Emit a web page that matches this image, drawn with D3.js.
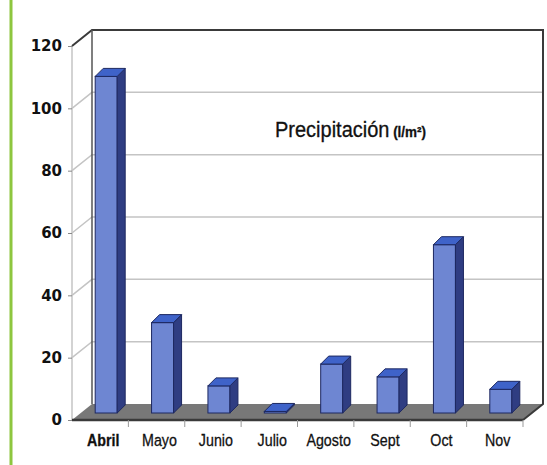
<!DOCTYPE html>
<html>
<head>
<meta charset="utf-8">
<script src="https://cdn.jsdelivr.net/npm/d3@7"></script>
<style>
    body { margin: 0; background: #fff; }
</style>
</head>
<body>
<div id="chart"></div>
<script>
// chart data
let months = ["Abril", "Mayo", "Junio", "Julio", "Agosto", "Sept", "Oct", "Nov"];
let precip = [108, 29, 8.7, 0.5, 15.7, 11.6, 54, 7.6];
let yTicks = [0, 20, 40, 60, 80, 100, 120];

let width = 547,
    height = 465;

// colours
let barFront = "#6e86d2";
let barTop = "#3f63c9";
let barSide = "#2f3d82";
let barLine = "#1d2860";
let floorGrey = "#787878";
let gridGrey = "#c4c4c4";
let wallDark = "#3a3a3a";
let greenBar = "#8dc63f";

// fake 3d: how far the back wall sits from the front plane
let depth = {dx: 20, dy: -16};
// bars sit a bit into the floor, and have their own depth
let barOff = {dx: 6, dy: -7};
let barDepth = {dx: 8, dy: -8};
let barWidth = 22;

let svg = d3.select("#chart")
    .append("svg")
    .attr("width", width)
    .attr("height", height);

// green rule down the left
svg.append("line")
    .attr("x1", 11).attr("x2", 11)
    .attr("y1", 0).attr("y2", height)
    .attr("stroke", greenBar)
    .attr("stroke-width", 3);

let xScale = d3.scaleBand()
    .domain(months)
    .range([72, 523]);

let yScale = d3.scaleLinear()
    .domain([0, 120])
    .range([420, 46]);

let x0 = xScale.range()[0],
    x1 = xScale.range()[1];

// gridlines on left wall + back wall
yTicks.forEach(function(t) {
    let yy = yScale(t);
    if (t > 0 && t < 120) {
        svg.append("polyline")
            .attr("points", [[x0, yy], [x0 + depth.dx, yy + depth.dy], [x1 + depth.dx, yy + depth.dy]].join(" "))
            .attr("fill", "none")
            .attr("stroke", gridGrey)
            .attr("stroke-width", 1.5);
    }
});

// front y axis line (light)
svg.append("line")
    .attr("x1", x0).attr("x2", x0)
    .attr("y1", yScale(120)).attr("y2", yScale(0))
    .attr("stroke", gridGrey)
    .attr("stroke-width", 1.5);

// floor
svg.append("polygon")
    .attr("points", [[x0, yScale(0)], [x0 + depth.dx, yScale(0) + depth.dy],
        [x1 + depth.dx, yScale(0) + depth.dy], [x1, yScale(0)]].join(" "))
    .attr("fill", floorGrey);
svg.append("line")
    .attr("x1", x0).attr("x2", x1)
    .attr("y1", yScale(0)).attr("y2", yScale(0))
    .attr("stroke", wallDark)
    .attr("stroke-width", 2.5);

// dark outline of the walls
svg.append("polyline")
    .attr("points", [[x0, yScale(120)], [x0 + depth.dx, yScale(120) + depth.dy],
        [x1 + depth.dx, yScale(120) + depth.dy], [x1 + depth.dx, yScale(0) + depth.dy], [x1, yScale(0)]].join(" "))
    .attr("fill", "none")
    .attr("stroke", wallDark)
    .attr("stroke-width", 2);
svg.append("line")
    .attr("x1", x0 + depth.dx).attr("x2", x0 + depth.dx)
    .attr("y1", yScale(120) + depth.dy).attr("y2", yScale(0) + depth.dy)
    .attr("stroke", "#555")
    .attr("stroke-width", 1.5);

// y axis ticks and labels
let yAxis = svg.append("g")
    .attr("transform", "translate(" + x0 + ",0)")
    .call(d3.axisLeft(yScale)
        .tickValues(yTicks)
        .tickSize(4)
        .tickPadding(6));
yAxis.select(".domain").remove();
yAxis.selectAll("line").attr("stroke", "#888");
yAxis.selectAll("text")
    .attr("font-family", "DejaVu Sans, sans-serif")
    .attr("font-weight", "bold")
    .attr("font-size", 15)
    .attr("fill", "#111");

// x axis labels, squeezed to look like a narrow face
let xAxis = svg.append("g")
    .attr("transform", "translate(0," + yScale(0) + ")")
    .call(d3.axisBottom(xScale)
        .tickSize(0)
        .tickPadding(14));
xAxis.select(".domain").remove();
xAxis.selectAll("text")
    .attr("x", 3.5)
    .attr("transform", "scale(0.84,1)")
    .attr("font-family", "Liberation Sans, Arial, sans-serif")
    .attr("font-size", 17)
    .attr("font-weight", d => d === "Abril" ? "bold" : "normal")
    .attr("stroke", "#111")
    .attr("stroke-width", 0.3)
    .attr("fill", "#111");

// x ticks at band edges
svg.selectAll("line.xtick")
    .data(months.slice(1).concat(["end"]))
    .enter()
    .append("line")
    .attr("class", "xtick")
    .attr("x1", d => d === "end" ? x1 : xScale(d))
    .attr("x2", d => d === "end" ? x1 : xScale(d))
    .attr("y1", yScale(0))
    .attr("y2", yScale(0) + 7)
    .attr("stroke", "#999");

// bars: front face, side, top
let bars = svg.selectAll("g.bar")
    .data(months.map((m, i) => ({month: m, value: precip[i]})))
    .enter()
    .append("g")
    .attr("class", "bar");

function barX(d) {
    return xScale(d.month) + xScale.bandwidth() / 2 - barWidth / 2 + barOff.dx;
}

bars.append("rect")
    .attr("x", d => barX(d))
    .attr("y", d => yScale(d.value) + barOff.dy)
    .attr("width", barWidth)
    .attr("height", d => yScale(0) - yScale(d.value))
    .attr("fill", barFront)
    .attr("stroke", barLine)
    .attr("stroke-width", 1);

bars.append("polygon")
    .attr("points", function(d) {
        let x = barX(d) + barWidth,
            yt = yScale(d.value) + barOff.dy,
            yb = yScale(0) + barOff.dy;
        return [[x, yt], [x + barDepth.dx, yt + barDepth.dy], [x + barDepth.dx, yb + barDepth.dy], [x, yb]].join(" ");
    })
    .attr("fill", barSide)
    .attr("stroke", barLine)
    .attr("stroke-width", 1);

bars.append("polygon")
    .attr("points", function(d) {
        let x = barX(d),
            yt = yScale(d.value) + barOff.dy;
        return [[x, yt], [x + barDepth.dx, yt + barDepth.dy], [x + barWidth + barDepth.dx, yt + barDepth.dy], [x + barWidth, yt]].join(" ");
    })
    .attr("fill", barTop)
    .attr("stroke", barLine)
    .attr("stroke-width", 1);

// title inside the plot
let title = svg.append("text")
    .attr("transform", "translate(275,137) scale(0.93,1)")
    .attr("font-family", "Liberation Sans, Arial, sans-serif")
    .attr("stroke", "#111")
    .attr("stroke-width", 0.3)
    .attr("fill", "#111");
title.append("tspan")
    .attr("font-size", 21.5)
    .text("Precipitación");
title.append("tspan")
    .attr("font-size", 14.5)
    .attr("font-weight", "bold")
    .attr("dx", 4)
    .text("(l/m²)");
</script>
</body>
</html>
